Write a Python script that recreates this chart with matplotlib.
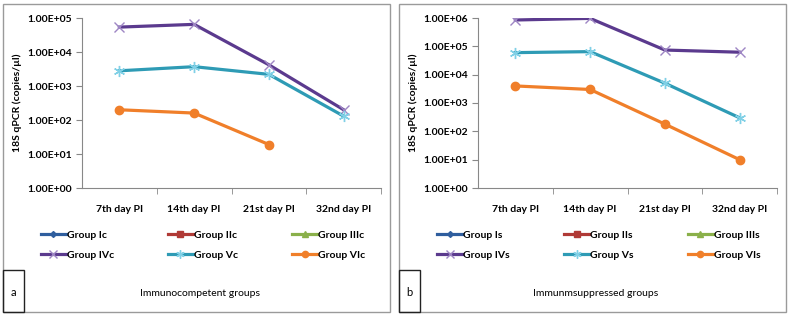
import matplotlib.pyplot as plt
import matplotlib.patches as patches
import numpy as np

days = ['7th day PI', '14th day PI', '21st day PI', '32nd day PI']
nan = np.nan

# immunocompetent groups (panel a)
comp_I = [nan, nan, nan, nan]
comp_II = [nan, nan, nan, nan]
comp_III = [nan, nan, nan, nan]
comp_IV = [5.4e4, 6.5e4, 4.2e3, 2.0e2]
comp_V = [2.8e3, 3.7e3, 2.2e3, 1.3e2]
comp_VI = [2.0e2, 1.6e2, 1.9e1, nan]

# immunosuppressed groups (panel b)
supp_I = [nan, nan, nan, nan]
supp_II = [nan, nan, nan, nan]
supp_III = [nan, nan, nan, nan]
supp_IV = [8.5e5, 9.7e5, 7.4e4, 6.2e4]
supp_V = [6.0e4, 6.5e4, 5.0e3, 3.0e2]
supp_VI = [4.0e3, 3.0e3, 1.8e2, 1.0e1]

styles = [
    dict(color='#2F5E9E', marker='D', ms=4, mfc='#2F5E9E', mec='#2F5E9E'),
    dict(color='#B03A36', marker='s', ms=5, mfc='#B03A36', mec='#B03A36'),
    dict(color='#8AB04A', marker='^', ms=5, mfc='#8AB04A', mec='#8AB04A'),
    dict(color='#5B3A8E', marker='x', ms=7, mfc='none', mec='#9E86C4', mew=1.0),
    dict(color='#2E9BB5', marker=(6, 2, 0), ms=8, mfc='none', mec='#80D0E6', mew=1.0),
    dict(color='#F07F2A', marker='o', ms=6, mfc='#F07F2A', mec='#F07F2A'),
]

plt.rcParams['font.family'] = ['Lato', 'DejaVu Sans']

fig = plt.figure(figsize=(7.89, 3.16), dpi=100)
W, H = 789, 316


def panel(x0, series, names, ymax, letter, title):
    # outer gray frame
    fig.add_artist(patches.Rectangle(((x0 + 3) / W, 4 / H), 387 / W, 308 / H,
                                     transform=fig.transFigure, fill=False,
                                     edgecolor='#9A9A9A', lw=1.0))
    # letter box
    fig.add_artist(patches.Rectangle(((x0 + 3) / W, 4 / H), 21 / W, 42 / H,
                                     transform=fig.transFigure, fill=False,
                                     edgecolor='#222222', lw=1.0))
    fig.text((x0 + 13.5) / W, 23 / H, letter, ha='center', va='center', fontsize=8)
    fig.text((x0 + 200) / W, 22 / H, title, ha='center', va='center', fontsize=7.5)

    ax = fig.add_axes([(x0 + 82) / W, (H - 188) / H, 299 / W, 170 / H])
    x = np.arange(len(days))
    lines = []
    for vals, name, st in zip(series, names, styles):
        ln, = ax.plot(x, vals, lw=2.3, label=name, **st)
        lines.append(ln)
    ax.set_yscale('log')
    ax.set_ylim(1, ymax)
    ax.set_xlim(-0.5, 3.5)
    ax.set_yticks([10.0 ** k for k in range(int(np.log10(ymax)) + 1)])
    ax.set_yticklabels(['%.2fE+%02d' % (1, k) for k in range(int(np.log10(ymax)) + 1)],
                       fontsize=7.5, fontweight='bold')
    ax.minorticks_off()
    ax.set_xticks(x)
    ax.set_xticklabels(days, fontsize=7.5, fontweight='bold')
    ax.set_xticks([0.5, 1.5, 2.5, 3.5], minor=True)
    ax.tick_params(axis='x', which='major', length=0, pad=12)
    ax.tick_params(axis='x', which='minor', length=4, color='#888888')
    ax.tick_params(axis='y', length=4, color='#888888', pad=3)
    for s in ['top', 'right']:
        ax.spines[s].set_visible(False)
    for s in ['left', 'bottom']:
        ax.spines[s].set_color('#888888')
        ax.spines[s].set_linewidth(0.8)
    ax.set_ylabel('18S qPCR (copies/\u00b5l)', fontsize=7.5, fontweight='bold', labelpad=4)

    order = [0, 3, 1, 4, 2, 5]
    fig.legend([lines[i] for i in order], [names[i] for i in order], ncol=3,
               loc='center', bbox_to_anchor=((x0 + 203) / W, 71 / H),
               frameon=False, handlelength=2.4, columnspacing=5.2,
               handletextpad=0.1, labelspacing=1.0, markerscale=0.75,
               prop=dict(size=7.5, weight='bold'))
    return ax


panel(0, [comp_I, comp_II, comp_III, comp_IV, comp_V, comp_VI],
      ['Group Ic', 'Group IIc', 'Group IIIc', 'Group IVc', 'Group Vc', 'Group VIc'],
      1e5, 'a', 'Immunocompetent groups')
panel(396, [supp_I, supp_II, supp_III, supp_IV, supp_V, supp_VI],
      ['Group Is', 'Group IIs', 'Group IIIs', 'Group IVs', 'Group Vs', 'Group VIs'],
      1e6, 'b', 'Immunmsuppressed groups')

fig.savefig('out.png', dpi=100)
